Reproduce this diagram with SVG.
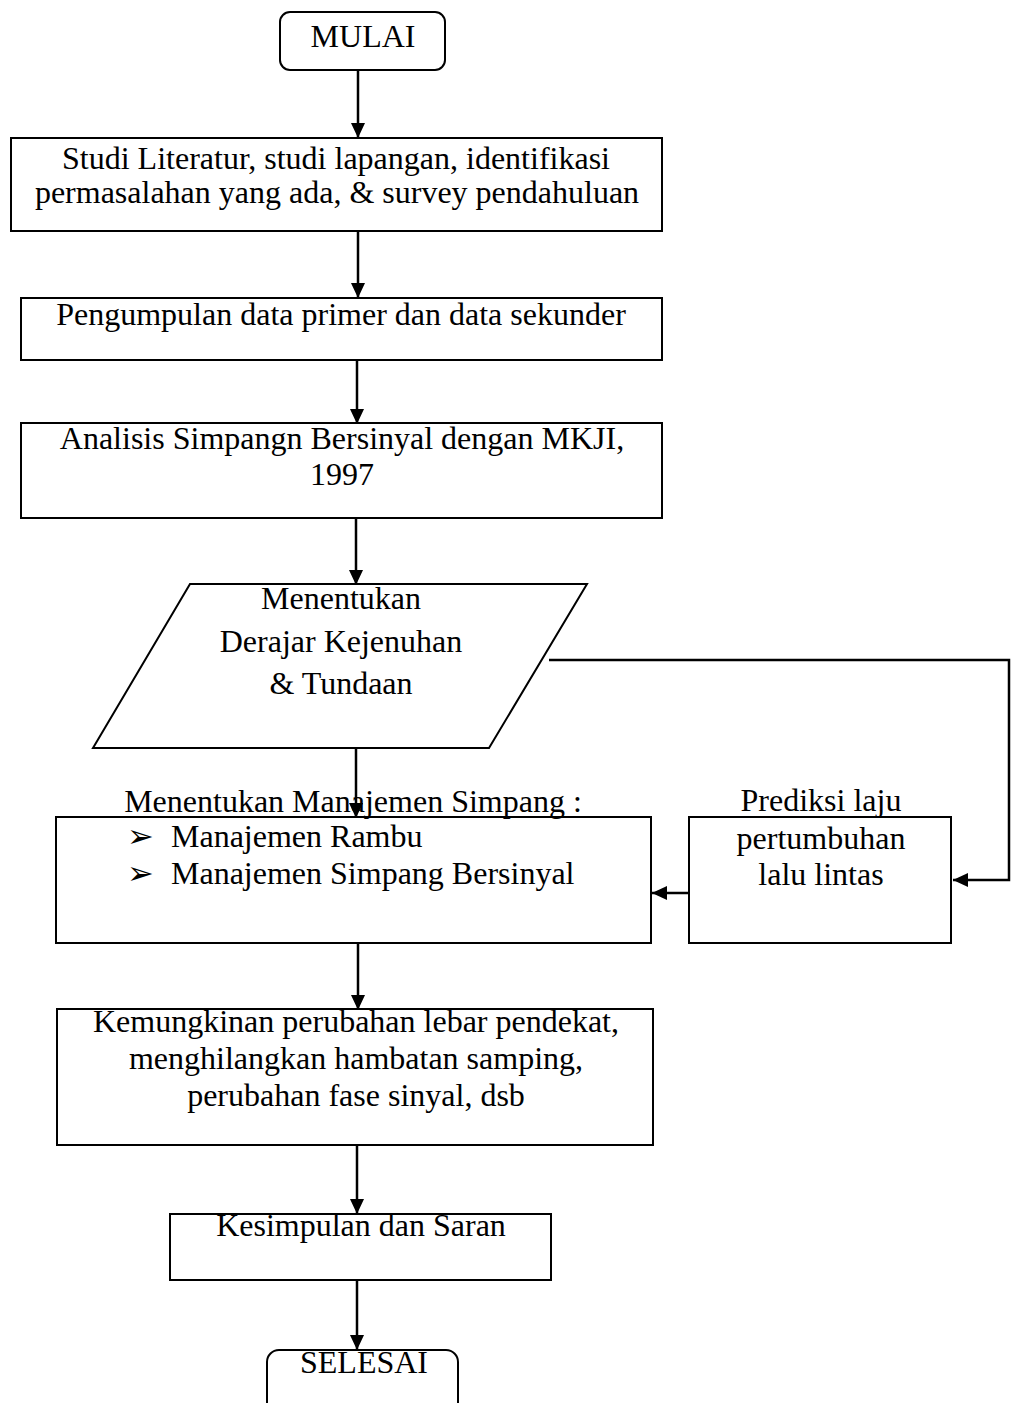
<svg xmlns="http://www.w3.org/2000/svg" width="1011" height="1403" viewBox="0 0 1011 1403">
<style>
.box{fill:#fff;stroke:#000;stroke-width:2}
.t{font-family:"Liberation Serif","Times New Roman",serif;font-size:32px;fill:#000}
.c{text-anchor:middle}
.ln{fill:none;stroke:#000;stroke-width:2.5}
</style>
<defs>
<marker id="ah" markerUnits="userSpaceOnUse" markerWidth="14" markerHeight="16" refX="15" refY="7" orient="auto">
<path d="M0,0 L15,7 L0,14 z" fill="#000"/>
</marker>
</defs>
<rect width="1011" height="1403" fill="#fff"/>
<g id="mulai">
<rect class="box" x="280" y="12" width="165" height="58" rx="10"/>
<text class="t c" x="363" y="47">MULAI</text>
</g>
<g id="studi">
<rect class="box" x="11" y="138" width="651" height="93"/>
<text class="t c" x="336" y="169">Studi Literatur, studi lapangan, identifikasi</text>
<text class="t c" x="337" y="203">permasalahan yang ada, &amp; survey pendahuluan</text>
</g>
<g id="pengumpulan">
<rect class="box" x="21" y="298" width="641" height="62"/>
<text class="t c" x="341" y="325">Pengumpulan data primer dan data sekunder</text>
</g>
<g id="analisis">
<rect class="box" x="21" y="423" width="641" height="95"/>
<text class="t c" x="342" y="449">Analisis Simpangn Bersinyal dengan MKJI,</text>
<text class="t c" x="342" y="485">1997</text>
</g>
<g id="derajat">
<polygon class="box" points="190,584 587,584 489,748 93,748"/>
<text class="t c" x="341" y="609">Menentukan</text>
<text class="t c" x="341" y="652">Derajar Kejenuhan</text>
<text class="t c" x="341" y="694">&amp; Tundaan</text>
</g>
<g id="manajemen">
<rect class="box" x="56" y="817" width="595" height="126"/>
<text class="t c" x="353" y="812">Menentukan Manajemen Simpang :</text>
<text class="t" x="127" y="847">➢</text>
<text class="t" x="171" y="847">Manajemen Rambu</text>
<text class="t" x="127" y="884">➢</text>
<text class="t" x="171" y="884">Manajemen Simpang Bersinyal</text>
</g>
<g id="prediksi">
<rect class="box" x="689" y="817" width="262" height="126"/>
<text class="t c" x="821" y="811">Prediksi laju</text>
<text class="t c" x="821" y="849">pertumbuhan</text>
<text class="t c" x="821" y="885">lalu lintas</text>
</g>
<g id="kemungkinan">
<rect class="box" x="57" y="1009" width="596" height="136"/>
<text class="t c" x="356" y="1032">Kemungkinan perubahan lebar pendekat,</text>
<text class="t c" x="356" y="1069">menghilangkan hambatan samping,</text>
<text class="t c" x="356" y="1106">perubahan fase sinyal, dsb</text>
</g>
<g id="kesimpulan">
<rect class="box" x="170" y="1214" width="381" height="66"/>
<text class="t c" x="361" y="1236">Kesimpulan dan Saran</text>
</g>
<g id="selesai">
<rect class="box" x="267" y="1350" width="191" height="90" rx="12"/>
<text class="t c" x="364" y="1373">SELESAI</text>
</g>
<g id="connectors">
<line class="ln" x1="358" y1="70" x2="358" y2="138" marker-end="url(#ah)"/>
<line class="ln" x1="358" y1="231" x2="358" y2="298" marker-end="url(#ah)"/>
<line class="ln" x1="357" y1="360" x2="357" y2="424" marker-end="url(#ah)"/>
<line class="ln" x1="356" y1="518" x2="356" y2="585" marker-end="url(#ah)"/>
<line class="ln" x1="356" y1="748" x2="356" y2="818" marker-end="url(#ah)"/>
<polyline class="ln" points="549,660 1009,660 1009,880 953,880" marker-end="url(#ah)"/>
<line class="ln" x1="689" y1="893" x2="652" y2="893" marker-end="url(#ah)"/>
<line class="ln" x1="358" y1="943" x2="358" y2="1010" marker-end="url(#ah)"/>
<line class="ln" x1="357" y1="1145" x2="357" y2="1214" marker-end="url(#ah)"/>
<line class="ln" x1="357" y1="1280" x2="357" y2="1350" marker-end="url(#ah)"/>
</g>
</svg>
